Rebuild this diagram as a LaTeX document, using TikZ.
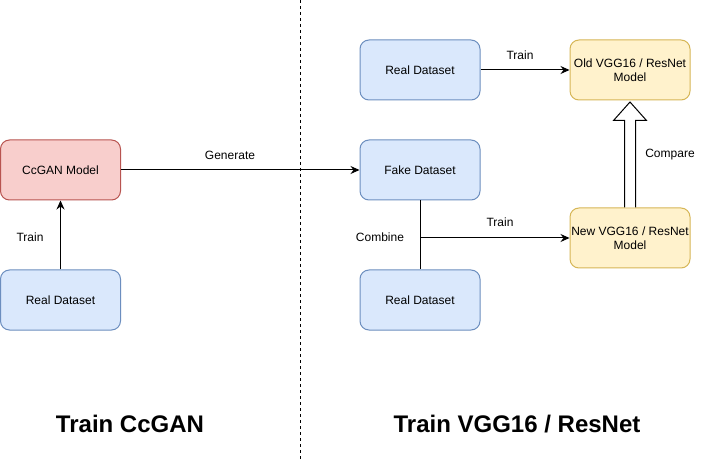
\documentclass[tikz,border=0pt]{standalone}
\usepackage{fontspec}
\setmainfont{Liberation Sans}
\usetikzlibrary{arrows.meta,calc}
\definecolor{bluefill}{HTML}{DAE8FC}
\definecolor{bluedraw}{HTML}{6C8EBF}
\definecolor{redfill}{HTML}{F8CECC}
\definecolor{reddraw}{HTML}{B85450}
\definecolor{yelfill}{HTML}{FFF2CC}
\definecolor{yeldraw}{HTML}{D6B656}
\begin{document}
\begin{tikzpicture}[x=1pt,y=-1pt,
  box/.style={rectangle, rounded corners=9pt, minimum width=120pt, minimum height=60pt,
    line width=1pt, font=\fontsize{12}{14}\selectfont, align=center, inner sep=0pt},
  bluebox/.style={box, fill=bluefill, draw=bluedraw},
  redbox/.style={box, fill=redfill, draw=reddraw},
  yelbox/.style={box, fill=yelfill, draw=yeldraw},
  conn/.style={line width=1pt, -{Stealth[length=9pt,width=8pt,inset=3pt]}},
  plainline/.style={line width=1pt},
  lbl/.style={font=\fontsize{12}{14}\selectfont, inner sep=0pt},
  ttl/.style={font=\fontsize{24}{28}\selectfont\bfseries, inner sep=0pt}]
\useasboundingbox (0,0) rectangle (701,462);
\fill[white] (0,0) rectangle (701,462);

% divider
\coordinate (dtop) at (300,0);
\coordinate (dbot) at (300,462);
\draw[line width=1pt, dash pattern=on 3pt off 3pt] (dtop) -- (dbot);

% nodes
\node[redbox] (ccgan) at (60.5,170) {CcGAN Model};
\node[bluebox] (realL) at (60.5,300) {Real Dataset};
\node[bluebox] (realT) at (420,70) {Real Dataset};
\node[bluebox] (fake) at (420,170) {Fake Dataset};
\node[bluebox] (realB) at (420,300) {Real Dataset};
\node[yelbox] (old) at (630,70) {Old VGG16 / ResNet\\Model};
\node[yelbox] (new) at (630,238) {New VGG16 / ResNet\\Model};

% connectors
\draw[conn] (realL.north) -- (ccgan.south);
\draw[conn] (ccgan.east) -- (fake.west);
\draw[conn] (realT.east) -- (old.west);
\draw[plainline] (fake.south) -- (realB.north);
\coordinate (comb) at (420,238);
\draw[conn] (comb) -- (new.west);

% hollow compare arrow
\draw[line width=1pt, fill=white, line join=miter]
  ($(new.north)+(-5.5,0)$) -- ($(old.south)+(-5.5,20)$) -- ($(old.south)+(-16.5,20)$)
  -- ($(old.south)+(0,1.5)$) -- ($(old.south)+(16.5,20)$) -- ($(old.south)+(5.5,20)$)
  -- ($(new.north)+(5.5,0)$);

% labels
\node[lbl] (lTrainL) at (30,237) {Train};
\node[lbl] (lGen) at (230,155) {Generate};
\node[lbl] (lTrainT) at (520,55) {Train};
\node[lbl] (lComp) at (670,155) {Compare};
\node[lbl] (lComb) at (380,237) {Combine};
\node[lbl] (lTrainB) at (500,222) {Train};

% titles
\node[ttl] (t1) at (130,424) {Train CcGAN};
\node[ttl] (t2) at (517,424) {Train VGG16 / ResNet};
\end{tikzpicture}
\end{document}
